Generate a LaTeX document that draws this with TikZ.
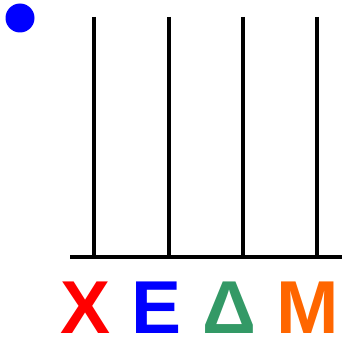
\documentclass[tikz,border=0pt]{standalone}
\usepackage{fontspec}
\setmainfont{Liberation Sans}
\usepackage{tikz}
\usetikzlibrary{positioning}
\definecolor{deltagreen}{HTML}{339966}
\definecolor{mOrange}{HTML}{FF6600}

\begin{document}
\begin{tikzpicture}[x=1pt,y=-1pt]
    \def\ytop{17}    % haut des tiges
    \def\ybase{257}  % ligne de base
    \useasboundingbox (0,0) rectangle (342,342);

    % Point bleu
    \fill[blue] (20,18) circle (14.5);

    % Tiges
    \foreach \x [count=\i] in {94,168.5,243,317}{
        \draw[line width=4pt] (\x,\ytop) -- (\x,\ybase);
    }

    % Ligne de base
    \draw[line width=4pt] (70,\ybase) -- (342,\ybase);

    % Lettres
    \foreach \x/\lab/\col [count=\i] in {86/X/red, 157/E/blue, 229/Δ/deltagreen, 307.5/M/mOrange}{
        \node[anchor=base, inner sep=0pt, text=\col,
              font=\fontsize{75}{75}\selectfont\bfseries] (lettre\i) at (\x,333) {\lab};
    }
\end{tikzpicture}
\end{document}
